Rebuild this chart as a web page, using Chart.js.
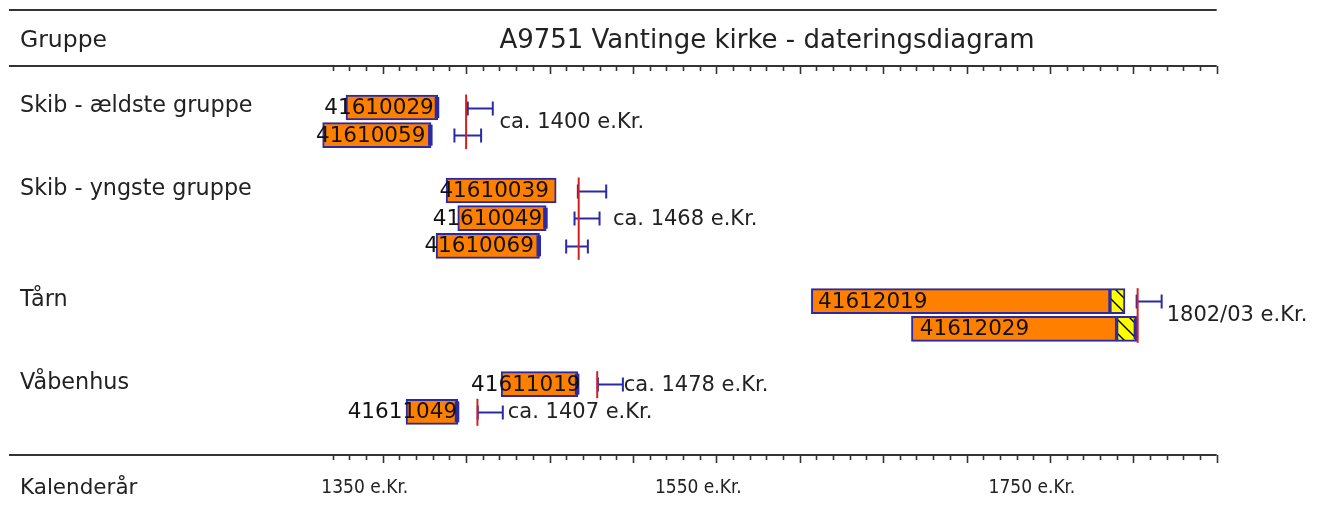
<!DOCTYPE html>
<html><head><meta charset="utf-8">
<script src="https://cdn.jsdelivr.net/npm/chart.js@4/dist/chart.umd.min.js"></script>
<style>html,body{margin:0;padding:0;background:#fff;overflow:hidden}#wrap{width:1319px;height:506px;position:relative}</style>
</head><body><div id="wrap"><canvas id="c" width="1319" height="506"></canvas></div>
<script>
// ---- data ----
const chartTitle = "A9751 Vantinge kirke - dateringsdiagram";
const groupHeader = "Gruppe";
const axisTitle = "Kalenderår";
const groupNames = ["Skib - ældste gruppe", "Skib - yngste gruppe", "Tårn", "Våbenhus"];
const sampleIds = ["41610029", "41610059", "41610039", "41610049", "41610069", "41612019", "41612029", "41611019", "41611049"];
const sampleGroup = [0, 0, 1, 1, 1, 2, 2, 3, 3];
const firstYear = [1328, 1314, 1388, 1395, 1382, 1607, 1667, 1421, 1364];
const lastYear = [1383, 1379, 1454, 1448, 1444, 1795, 1802, 1467, 1395];
const sapwoodStart = [null, null, null, null, null, 1786, 1790, null, null];
const lastRingMark = [true, true, false, true, true, false, true, true, true];
const labelYear = [1315, 1310, 1384, 1380, 1375, 1611, 1672, 1403, 1329];
const fellingFrom = [1401, 1393, 1467, 1465, 1460, 1802, null, 1479, 1407];
const fellingTo = [1416, 1409, 1484, 1480, 1473, 1817, null, 1494, 1422];
const datingYear = [1400, 1467.5, 1802.6, 1478.6, 1406.8];
const datingFirst = [0, 2, 5, 7, 8];
const datingLast = [1, 4, 6, 7, 8];
const datingText = ["ca. 1400 e.Kr.", "ca. 1468 e.Kr.", "1802/03 e.Kr.", "ca. 1478 e.Kr.", "ca. 1407 e.Kr."];
const datingTextYear = [1420, 1488, 1820, 1494.5, 1425];
const axisMin = 1300, axisMax = 1850, tickStartYear = 1320;
const axisLabelYears = [1350, 1550, 1750];

// ---- derived ----
const rows = sampleIds.map((_, i) => i + sampleGroup[i]);
const heartData = sampleIds.map((_, i) => ({ x: [firstYear[i], sapwoodStart[i] ?? lastYear[i]], y: rows[i] }));
const sapData = sampleIds.map((_, i) => i).filter(i => sapwoodStart[i] != null)
  .map(i => ({ x: [sapwoodStart[i], lastYear[i]], y: rows[i] }));

const FONT = "'DejaVu Sans', Verdana, sans-serif";
const BLUE = '#2a2aa6', ORANGE = '#ff8000', RED = '#d42020', INK = '#222';

function hatchPattern() {
  const c = document.createElement('canvas'); c.width = c.height = 14;
  const g = c.getContext('2d');
  g.fillStyle = '#ffff00'; g.fillRect(0, 0, 14, 14);
  g.strokeStyle = '#000'; g.lineWidth = 1.4; g.beginPath();
  g.moveTo(-2, -2); g.lineTo(16, 16); g.moveTo(-2, 12); g.lineTo(2, 16); g.moveTo(12, -2); g.lineTo(16, 2);
  g.stroke();
  return g.createPattern(c, 'repeat');
}

const decor = {
  id: 'decor',
  afterDraw(chart) {
    const ctx = chart.ctx, xs = chart.scales.x, ys = chart.scales.y, ca = chart.chartArea;
    const X = v => xs.getPixelForValue(v), Y = v => ys.getPixelForValue(v);
    ctx.save();
    // frame lines
    ctx.strokeStyle = '#333'; ctx.lineWidth = 2;
    [10, ca.top, ca.bottom].forEach(yy => { ctx.beginPath(); ctx.moveTo(9, yy); ctx.lineTo(ca.right, yy); ctx.stroke(); });
    // tick marks on both axis lines
    ctx.lineWidth = 1.6;
    xs.ticks.forEach(t => {
      if (t.value < tickStartYear) return;
      const px = Math.round(X(t.value)) + 0.5, len = t.value % 50 === 0 ? 8 : 5;
      [ca.top, ca.bottom].forEach(yy => { ctx.beginPath(); ctx.moveTo(px, yy); ctx.lineTo(px, yy + len); ctx.stroke(); });
    });
    // headings
    ctx.fillStyle = INK; ctx.textBaseline = 'middle'; ctx.textAlign = 'left';
    ctx.font = '23.5px ' + FONT; ctx.fillText(groupHeader, 20, 41);
    ctx.font = '21.5px ' + FONT; ctx.fillText(axisTitle, 20, 488);
    ctx.font = '26px ' + FONT; ctx.textAlign = 'center'; ctx.fillText(chartTitle, 767, 41);
    // group labels
    ctx.textAlign = 'left'; ctx.font = '22.3px ' + FONT;
    groupNames.forEach((g, gi) => {
      const first = sampleGroup.indexOf(gi);
      ctx.fillText(g, 20, Y(rows[first]) - 1);
    });
    // last ring marks
    ctx.fillStyle = BLUE;
    sampleIds.forEach((_, i) => {
      if (!lastRingMark[i]) return;
      const px = X(lastYear[i]), py = Y(rows[i]);
      ctx.fillRect(px - 3, py - 10.5, 4.5, 21);
    });
    // felling ranges
    ctx.strokeStyle = BLUE; ctx.lineWidth = 2;
    sampleIds.forEach((_, i) => {
      if (fellingFrom[i] == null) return;
      const a = X(fellingFrom[i]), b = X(fellingTo[i]), py = Math.round(Y(rows[i])) + 0.5;
      ctx.beginPath();
      ctx.moveTo(a, py); ctx.lineTo(b, py);
      ctx.moveTo(a, py - 7); ctx.lineTo(a, py + 7);
      ctx.moveTo(b, py - 7); ctx.lineTo(b, py + 7);
      ctx.stroke();
    });
    // dating lines
    ctx.strokeStyle = RED; ctx.lineWidth = 2;
    datingYear.forEach((d, k) => {
      const px = X(d);
      ctx.beginPath(); ctx.moveTo(px, Y(rows[datingFirst[k]]) - 13); ctx.lineTo(px, Y(rows[datingLast[k]]) + 14); ctx.stroke();
    });
    // sample labels
    ctx.fillStyle = '#111'; ctx.font = '21.5px ' + FONT; ctx.textAlign = 'left';
    sampleIds.forEach((s, i) => ctx.fillText(s, X(labelYear[i]), Y(rows[i]) + 1));
    // dating texts
    ctx.fillStyle = INK; ctx.font = '21px ' + FONT;
    datingText.forEach((t, k) => {
      const py = (Y(rows[datingFirst[k]]) + Y(rows[datingLast[k]])) / 2;
      ctx.fillText(t, X(datingTextYear[k]), py + 1);
    });
    ctx.restore();
  }
};

new Chart(document.getElementById('c'), {
  type: 'bar',
  data: {
    datasets: [
      { label: 'kerneved', data: heartData, backgroundColor: ORANGE, borderColor: BLUE, borderWidth: 2, borderSkipped: false, barThickness: 25, grouped: false },
      { label: 'splintved', data: sapData, backgroundColor: hatchPattern(), borderColor: BLUE, borderWidth: 2, borderSkipped: false, barThickness: 25, grouped: false }
    ]
  },
  options: {
    indexAxis: 'y', responsive: false, animation: false,
    layout: { padding: { left: 299.3, right: 102.3, top: 66, bottom: 0 } },
    plugins: { legend: { display: false }, tooltip: { enabled: false }, title: { display: false } },
    scales: {
      x: {
        type: 'linear', position: 'bottom', min: axisMin, max: axisMax, offset: false,
        grid: { display: false }, border: { display: false },
        afterFit: s => { s.height = 51; },
        ticks: {
          stepSize: 10, autoSkip: false, maxRotation: 0, minRotation: 0, padding: 14, labelOffset: -18,
          color: INK, font: { family: "'DejaVu Sans Condensed', 'DejaVu Sans', sans-serif", size: 19 },
          callback: v => axisLabelYears.includes(v) ? v + ' e.Kr.' : ''
        }
      },
      y: { type: 'linear', reverse: true, min: -1.5, max: 12.56, offset: false, display: false }
    }
  },
  plugins: [decor]
});
</script></body></html>
